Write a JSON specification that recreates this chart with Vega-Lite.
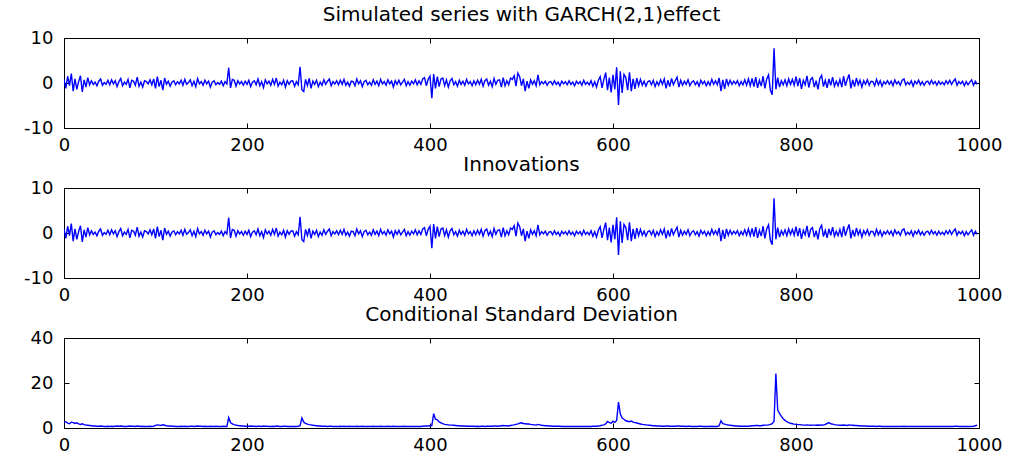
{
  "$schema": "https://vega.github.io/schema/vega-lite/v6.json",
  "autosize": {"type": "pad"},
  "padding": {"left": 23, "top": 4, "right": 5, "bottom": 2},
  "background": "white",
  "data": {"values": [
    {"t":0,"y":0.8,"e":0.8,"s":2.5},{"t":2,"y":-1.2,"e":-1.2,"s":2.8},{"t":4,"y":1.5,"e":1.5,"s":2.2},{"t":6,"y":-0.6,"e":-0.6,"s":1.9},{"t":8,"y":2.1,"e":2.1,"s":2.6},
    {"t":10,"y":-1.8,"e":-1.8,"s":2.4},{"t":12,"y":0.9,"e":0.9,"s":2.0},{"t":14,"y":-1.4,"e":-1.4,"s":2.3},{"t":16,"y":0.3,"e":0.3,"s":1.8},{"t":18,"y":1.6,"e":1.6,"s":1.6},
    {"t":20,"y":-2.0,"e":-2.0,"s":1.9},{"t":22,"y":0.7,"e":0.7,"s":1.5},{"t":24,"y":-0.9,"e":-0.9,"s":1.3},{"t":26,"y":1.2,"e":1.2,"s":1.2},{"t":28,"y":-0.4,"e":-0.4,"s":1.1},
    {"t":30,"y":0.5,"e":0.5,"s":1.0},{"t":32,"y":-0.3,"e":-0.3,"s":0.9},{"t":34,"y":0.2,"e":0.2,"s":0.9},{"t":36,"y":-0.6,"e":-0.6,"s":0.8},{"t":38,"y":0.4,"e":0.4,"s":0.8},
    {"t":40,"y":0.9,"e":0.9,"s":0.9},{"t":42,"y":-0.5,"e":-0.5,"s":0.8},{"t":44,"y":0.1,"e":0.1,"s":0.7},{"t":46,"y":-0.3,"e":-0.3,"s":0.7},{"t":48,"y":0.6,"e":0.6,"s":0.8},
    {"t":50,"y":-0.4,"e":-0.4,"s":0.7},{"t":52,"y":0.7,"e":0.7,"s":0.8},{"t":54,"y":-0.2,"e":-0.2,"s":0.7},{"t":56,"y":0.5,"e":0.5,"s":0.8},{"t":58,"y":-0.8,"e":-0.8,"s":0.9},
    {"t":60,"y":0.3,"e":0.3,"s":0.8},{"t":62,"y":1.0,"e":1.0,"s":0.9},{"t":64,"y":-0.6,"e":-0.6,"s":0.8},{"t":66,"y":0.2,"e":0.2,"s":0.7},{"t":68,"y":-0.3,"e":-0.3,"s":0.7},
    {"t":70,"y":0.8,"e":0.8,"s":0.8},{"t":72,"y":-1.1,"e":-1.1,"s":0.9},{"t":74,"y":0.6,"e":0.6,"s":0.8},{"t":76,"y":0.4,"e":0.4,"s":0.8},{"t":78,"y":-0.5,"e":-0.5,"s":0.7},
    {"t":80,"y":1.3,"e":1.3,"s":0.9},{"t":82,"y":-0.7,"e":-0.7,"s":0.8},{"t":84,"y":0.2,"e":0.2,"s":0.7},{"t":86,"y":-0.9,"e":-0.9,"s":0.8},{"t":88,"y":0.5,"e":0.5,"s":0.7},
    {"t":90,"y":0.3,"e":0.3,"s":0.7},{"t":92,"y":-0.2,"e":-0.2,"s":0.7},{"t":94,"y":0.7,"e":0.7,"s":0.8},{"t":96,"y":-0.4,"e":-0.4,"s":0.7},{"t":98,"y":0.9,"e":0.9,"s":0.8},
    {"t":100,"y":-1.2,"e":-1.2,"s":1.2},{"t":102,"y":1.4,"e":1.4,"s":1.4},{"t":104,"y":-0.8,"e":-0.8,"s":1.3},{"t":106,"y":0.6,"e":0.6,"s":1.1},{"t":108,"y":-1.6,"e":-1.6,"s":1.4},
    {"t":110,"y":1.1,"e":1.1,"s":1.2},{"t":112,"y":-0.3,"e":-0.3,"s":1.0},{"t":114,"y":0.4,"e":0.4,"s":0.9},{"t":116,"y":-0.7,"e":-0.7,"s":0.9},{"t":118,"y":0.2,"e":0.2,"s":0.8},
    {"t":120,"y":0.5,"e":0.5,"s":0.8},{"t":122,"y":-0.4,"e":-0.4,"s":0.7},{"t":124,"y":0.3,"e":0.3,"s":0.7},{"t":126,"y":-0.2,"e":-0.2,"s":0.7},{"t":128,"y":0.6,"e":0.6,"s":0.8},
    {"t":130,"y":-0.5,"e":-0.5,"s":0.7},{"t":132,"y":0.8,"e":0.8,"s":0.8},{"t":134,"y":-0.3,"e":-0.3,"s":0.7},{"t":136,"y":0.1,"e":0.1,"s":0.7},{"t":138,"y":0.7,"e":0.7,"s":0.8},
    {"t":140,"y":-0.6,"e":-0.6,"s":0.8},{"t":142,"y":0.4,"e":0.4,"s":0.7},{"t":144,"y":-0.8,"e":-0.8,"s":0.8},{"t":146,"y":1.0,"e":1.0,"s":0.9},{"t":148,"y":-0.2,"e":-0.2,"s":0.8},
    {"t":150,"y":0.3,"e":0.3,"s":0.8},{"t":152,"y":-0.5,"e":-0.5,"s":0.7},{"t":154,"y":0.6,"e":0.6,"s":0.8},{"t":156,"y":-0.2,"e":-0.2,"s":0.7},{"t":158,"y":0.4,"e":0.4,"s":0.7},
    {"t":160,"y":-0.9,"e":-0.9,"s":0.8},{"t":162,"y":0.2,"e":0.2,"s":0.7},{"t":164,"y":0.5,"e":0.5,"s":0.7},{"t":166,"y":-0.4,"e":-0.4,"s":0.8},{"t":168,"y":0.1,"e":0.1,"s":0.7},
    {"t":170,"y":-0.3,"e":-0.3,"s":0.7},{"t":172,"y":0.4,"e":0.4,"s":0.7},{"t":174,"y":-0.6,"e":-0.6,"s":0.8},{"t":176,"y":0.3,"e":0.3,"s":0.7},{"t":178,"y":-0.2,"e":-0.2,"s":0.7},
    {"t":180,"y":3.4,"e":3.4,"s":4.6},{"t":182,"y":-1.1,"e":-1.1,"s":2.4},{"t":184,"y":0.8,"e":0.8,"s":1.8},{"t":186,"y":0.6,"e":0.6,"s":1.5},{"t":188,"y":-0.7,"e":-0.7,"s":1.3},
    {"t":190,"y":0.5,"e":0.5,"s":1.1},{"t":192,"y":-0.2,"e":-0.2,"s":1.0},{"t":194,"y":0.3,"e":0.3,"s":0.9},{"t":196,"y":-0.5,"e":-0.5,"s":0.9},{"t":198,"y":0.4,"e":0.4,"s":0.8},
    {"t":200,"y":-0.3,"e":-0.3,"s":0.8},{"t":202,"y":0.6,"e":0.6,"s":0.8},{"t":204,"y":-0.8,"e":-0.8,"s":0.9},{"t":206,"y":0.2,"e":0.2,"s":0.8},{"t":208,"y":0.5,"e":0.5,"s":0.8},
    {"t":210,"y":-0.4,"e":-0.4,"s":0.7},{"t":212,"y":0.9,"e":0.9,"s":0.8},{"t":214,"y":-0.6,"e":-0.6,"s":0.8},{"t":216,"y":0.3,"e":0.3,"s":0.7},{"t":218,"y":-1.0,"e":-1.0,"s":0.9},
    {"t":220,"y":0.7,"e":0.7,"s":0.8},{"t":222,"y":-0.2,"e":-0.2,"s":0.8},{"t":224,"y":0.4,"e":0.4,"s":0.7},{"t":226,"y":-0.5,"e":-0.5,"s":0.7},{"t":228,"y":0.8,"e":0.8,"s":0.8},
    {"t":230,"y":-0.3,"e":-0.3,"s":0.7},{"t":232,"y":1.1,"e":1.1,"s":0.9},{"t":234,"y":-0.7,"e":-0.7,"s":0.8},{"t":236,"y":0.2,"e":0.2,"s":0.7},{"t":238,"y":-0.4,"e":-0.4,"s":0.7},
    {"t":240,"y":0.6,"e":0.6,"s":0.8},{"t":242,"y":-0.9,"e":-0.9,"s":0.8},{"t":244,"y":0.5,"e":0.5,"s":0.7},{"t":246,"y":-0.3,"e":-0.3,"s":0.7},{"t":248,"y":0.4,"e":0.4,"s":0.7},
    {"t":250,"y":0.5,"e":0.5,"s":0.7},{"t":252,"y":-0.7,"e":-0.7,"s":0.7},{"t":254,"y":0.3,"e":0.3,"s":0.7},{"t":256,"y":-0.4,"e":-0.4,"s":0.8},{"t":258,"y":3.6,"e":3.6,"s":1.0},
    {"t":260,"y":-1.5,"e":-1.5,"s":4.5},{"t":262,"y":-1.9,"e":-1.9,"s":2.6},{"t":264,"y":0.8,"e":0.8,"s":2.1},{"t":266,"y":-0.6,"e":-0.6,"s":1.7},{"t":268,"y":1.0,"e":1.0,"s":1.5},
    {"t":270,"y":-1.2,"e":-1.2,"s":1.4},{"t":272,"y":0.4,"e":0.4,"s":1.2},{"t":274,"y":-0.3,"e":-0.3,"s":1.1},{"t":276,"y":0.6,"e":0.6,"s":1.0},{"t":278,"y":-0.8,"e":-0.8,"s":0.9},
    {"t":280,"y":0.2,"e":0.2,"s":0.9},{"t":282,"y":-0.5,"e":-0.5,"s":0.8},{"t":284,"y":0.7,"e":0.7,"s":0.8},{"t":286,"y":-0.3,"e":-0.3,"s":0.8},{"t":288,"y":0.4,"e":0.4,"s":0.7},
    {"t":290,"y":0.9,"e":0.9,"s":0.8},{"t":292,"y":-0.6,"e":-0.6,"s":0.8},{"t":294,"y":0.3,"e":0.3,"s":0.7},{"t":296,"y":-0.2,"e":-0.2,"s":0.7},{"t":298,"y":0.5,"e":0.5,"s":0.7},
    {"t":300,"y":-0.4,"e":-0.4,"s":0.7},{"t":302,"y":0.6,"e":0.6,"s":0.8},{"t":304,"y":-0.3,"e":-0.3,"s":0.7},{"t":306,"y":0.8,"e":0.8,"s":0.8},{"t":308,"y":-0.5,"e":-0.5,"s":0.7},
    {"t":310,"y":0.2,"e":0.2,"s":0.7},{"t":312,"y":-0.7,"e":-0.7,"s":0.8},{"t":314,"y":0.4,"e":0.4,"s":0.7},{"t":316,"y":0.3,"e":0.3,"s":0.7},{"t":318,"y":-0.6,"e":-0.6,"s":0.7},
    {"t":320,"y":0.9,"e":0.9,"s":0.8},{"t":322,"y":-0.2,"e":-0.2,"s":0.7},{"t":324,"y":0.5,"e":0.5,"s":0.7},{"t":326,"y":-0.8,"e":-0.8,"s":0.8},{"t":328,"y":0.3,"e":0.3,"s":0.7},
    {"t":330,"y":0.6,"e":0.6,"s":0.7},{"t":332,"y":-0.4,"e":-0.4,"s":0.7},{"t":334,"y":0.2,"e":0.2,"s":0.7},{"t":336,"y":-0.5,"e":-0.5,"s":0.7},{"t":338,"y":0.7,"e":0.7,"s":0.8},
    {"t":340,"y":-0.3,"e":-0.3,"s":0.7},{"t":342,"y":0.4,"e":0.4,"s":0.7},{"t":344,"y":-0.6,"e":-0.6,"s":0.7},{"t":346,"y":0.8,"e":0.8,"s":0.8},{"t":348,"y":-0.2,"e":-0.2,"s":0.7},
    {"t":350,"y":0.3,"e":0.3,"s":0.7},{"t":352,"y":-0.5,"e":-0.5,"s":0.7},{"t":354,"y":0.7,"e":0.7,"s":0.8},{"t":356,"y":-0.2,"e":-0.2,"s":0.7},{"t":358,"y":0.4,"e":0.4,"s":0.7},
    {"t":360,"y":-0.9,"e":-0.9,"s":0.8},{"t":362,"y":0.5,"e":0.5,"s":0.7},{"t":364,"y":-0.3,"e":-0.3,"s":0.7},{"t":366,"y":0.6,"e":0.6,"s":0.7},{"t":368,"y":-0.4,"e":-0.4,"s":0.7},
    {"t":370,"y":0.2,"e":0.2,"s":0.7},{"t":372,"y":0.8,"e":0.8,"s":0.8},{"t":374,"y":-0.6,"e":-0.6,"s":0.7},{"t":376,"y":0.3,"e":0.3,"s":0.7},{"t":378,"y":-0.5,"e":-0.5,"s":0.7},
    {"t":380,"y":0.4,"e":0.4,"s":0.7},{"t":382,"y":-0.2,"e":-0.2,"s":0.7},{"t":384,"y":0.7,"e":0.7,"s":0.7},{"t":386,"y":-0.4,"e":-0.4,"s":0.7},{"t":388,"y":0.5,"e":0.5,"s":0.7},
    {"t":390,"y":-0.3,"e":-0.3,"s":0.7},{"t":392,"y":0.9,"e":0.9,"s":0.8},{"t":394,"y":1.2,"e":1.2,"s":0.9},{"t":396,"y":-0.6,"e":-0.6,"s":0.9},{"t":398,"y":0.8,"e":0.8,"s":0.9},
    {"t":400,"y":1.5,"e":1.5,"s":1.0},{"t":402,"y":-3.4,"e":-3.4,"s":1.1},{"t":404,"y":2.0,"e":2.0,"s":6.4},{"t":406,"y":-1.2,"e":-1.2,"s":3.9},{"t":408,"y":1.4,"e":1.4,"s":3.6},
    {"t":410,"y":-0.8,"e":-0.8,"s":2.7},{"t":412,"y":0.9,"e":0.9,"s":2.3},{"t":414,"y":1.1,"e":1.1,"s":1.9},{"t":416,"y":-0.6,"e":-0.6,"s":1.6},{"t":418,"y":0.7,"e":0.7,"s":1.5},
    {"t":420,"y":-0.9,"e":-0.9,"s":1.4},{"t":422,"y":0.5,"e":0.5,"s":1.3},{"t":424,"y":1.0,"e":1.0,"s":1.3},{"t":426,"y":-0.4,"e":-0.4,"s":1.2},{"t":428,"y":0.3,"e":0.3,"s":1.1},
    {"t":430,"y":-0.7,"e":-0.7,"s":1.0},{"t":432,"y":0.6,"e":0.6,"s":1.0},{"t":434,"y":-0.3,"e":-0.3,"s":0.9},{"t":436,"y":0.4,"e":0.4,"s":0.9},{"t":438,"y":-0.5,"e":-0.5,"s":0.9},
    {"t":440,"y":0.8,"e":0.8,"s":0.8},{"t":442,"y":-0.2,"e":-0.2,"s":0.8},{"t":444,"y":0.3,"e":0.3,"s":0.8},{"t":446,"y":-0.6,"e":-0.6,"s":0.8},{"t":448,"y":0.5,"e":0.5,"s":0.8},
    {"t":450,"y":-0.4,"e":-0.4,"s":0.7},{"t":452,"y":0.6,"e":0.6,"s":0.8},{"t":454,"y":-0.3,"e":-0.3,"s":0.7},{"t":456,"y":0.8,"e":0.8,"s":0.8},{"t":458,"y":-0.7,"e":-0.7,"s":0.8},
    {"t":460,"y":0.5,"e":0.5,"s":0.7},{"t":462,"y":0.9,"e":0.9,"s":0.8},{"t":464,"y":-0.5,"e":-0.5,"s":0.8},{"t":466,"y":0.4,"e":0.4,"s":0.8},{"t":468,"y":-0.8,"e":-0.8,"s":0.8},
    {"t":470,"y":1.0,"e":1.0,"s":0.9},{"t":472,"y":-0.3,"e":-0.3,"s":0.9},{"t":474,"y":0.6,"e":0.6,"s":0.8},{"t":476,"y":0.7,"e":0.7,"s":0.9},{"t":478,"y":-0.9,"e":-0.9,"s":1.0},
    {"t":480,"y":1.2,"e":1.2,"s":1.1},{"t":482,"y":-0.6,"e":-0.6,"s":1.0},{"t":484,"y":0.5,"e":0.5,"s":1.0},{"t":486,"y":-0.4,"e":-0.4,"s":0.9},{"t":488,"y":1.1,"e":1.1,"s":1.1},
    {"t":490,"y":0.8,"e":0.8,"s":1.3},{"t":492,"y":1.6,"e":1.6,"s":1.4},{"t":494,"y":-0.7,"e":-0.7,"s":1.6},{"t":496,"y":2.2,"e":2.2,"s":1.8},{"t":498,"y":1.4,"e":1.4,"s":2.1},
    {"t":500,"y":-0.6,"e":-0.6,"s":2.3},{"t":502,"y":0.9,"e":0.9,"s":2.0},{"t":504,"y":-1.8,"e":-1.8,"s":1.9},{"t":506,"y":0.4,"e":0.4,"s":1.8},{"t":508,"y":-1.2,"e":-1.2,"s":1.8},
    {"t":510,"y":0.7,"e":0.7,"s":1.6},{"t":512,"y":-0.3,"e":-0.3,"s":1.5},{"t":514,"y":0.5,"e":0.5,"s":1.4},{"t":516,"y":-0.6,"e":-0.6,"s":1.3},{"t":518,"y":1.8,"e":1.8,"s":1.6},
    {"t":520,"y":-0.4,"e":-0.4,"s":1.4},{"t":522,"y":0.3,"e":0.3,"s":1.2},{"t":524,"y":-0.2,"e":-0.2,"s":1.1},{"t":526,"y":0.4,"e":0.4,"s":1.0},{"t":528,"y":-0.5,"e":-0.5,"s":1.0},
    {"t":530,"y":0.2,"e":0.2,"s":0.9},{"t":532,"y":0.3,"e":0.3,"s":0.9},{"t":534,"y":-0.4,"e":-0.4,"s":0.8},{"t":536,"y":0.5,"e":0.5,"s":0.8},{"t":538,"y":-0.3,"e":-0.3,"s":0.8},
    {"t":540,"y":0.2,"e":0.2,"s":0.8},{"t":542,"y":-0.6,"e":-0.6,"s":0.8},{"t":544,"y":0.4,"e":0.4,"s":0.7},{"t":546,"y":-0.2,"e":-0.2,"s":0.7},{"t":548,"y":0.3,"e":0.3,"s":0.7},
    {"t":550,"y":-0.4,"e":-0.4,"s":0.7},{"t":552,"y":0.5,"e":0.5,"s":0.7},{"t":554,"y":-0.3,"e":-0.3,"s":0.7},{"t":556,"y":0.2,"e":0.2,"s":0.7},{"t":558,"y":-0.6,"e":-0.6,"s":0.7},
    {"t":560,"y":0.4,"e":0.4,"s":0.7},{"t":562,"y":-0.2,"e":-0.2,"s":0.7},{"t":564,"y":0.3,"e":0.3,"s":0.7},{"t":566,"y":-0.5,"e":-0.5,"s":0.7},{"t":568,"y":0.6,"e":0.6,"s":0.7},
    {"t":570,"y":-0.3,"e":-0.3,"s":0.7},{"t":572,"y":0.2,"e":0.2,"s":0.7},{"t":574,"y":-0.4,"e":-0.4,"s":0.7},{"t":576,"y":0.5,"e":0.5,"s":0.7},{"t":578,"y":-0.7,"e":-0.7,"s":0.8},
    {"t":580,"y":0.3,"e":0.3,"s":0.8},{"t":582,"y":-0.9,"e":-0.9,"s":0.8},{"t":584,"y":0.6,"e":0.6,"s":0.9},{"t":586,"y":1.4,"e":1.4,"s":1.0},{"t":588,"y":-1.1,"e":-1.1,"s":1.3},
    {"t":590,"y":0.8,"e":0.8,"s":1.4},{"t":592,"y":2.3,"e":2.3,"s":1.8},{"t":594,"y":-1.6,"e":-1.6,"s":2.9},{"t":596,"y":1.2,"e":1.2,"s":2.4},{"t":598,"y":-2.1,"e":-2.1,"s":2.1},
    {"t":600,"y":1.8,"e":1.8,"s":3.0},{"t":602,"y":-1.4,"e":-1.4,"s":2.5},{"t":604,"y":3.5,"e":3.5,"s":3.4},{"t":606,"y":-4.9,"e":-4.9,"s":11.5},{"t":608,"y":2.6,"e":2.6,"s":6.2},
    {"t":610,"y":-2.2,"e":-2.2,"s":4.4},{"t":612,"y":1.9,"e":1.9,"s":3.9},{"t":614,"y":1.2,"e":1.2,"s":3.2},{"t":616,"y":-1.6,"e":-1.6,"s":3.0},{"t":618,"y":2.4,"e":2.4,"s":2.8},
    {"t":620,"y":-1.8,"e":-1.8,"s":3.1},{"t":622,"y":0.9,"e":0.9,"s":2.6},{"t":624,"y":-1.3,"e":-1.3,"s":2.4},{"t":626,"y":1.1,"e":1.1,"s":2.2},{"t":628,"y":-0.6,"e":-0.6,"s":2.0},
    {"t":630,"y":0.8,"e":0.8,"s":1.8},{"t":632,"y":-0.5,"e":-0.5,"s":1.6},{"t":634,"y":0.4,"e":0.4,"s":1.5},{"t":636,"y":-0.7,"e":-0.7,"s":1.4},{"t":638,"y":0.3,"e":0.3,"s":1.3},
    {"t":640,"y":0.5,"e":0.5,"s":1.2},{"t":642,"y":-0.4,"e":-0.4,"s":1.1},{"t":644,"y":0.6,"e":0.6,"s":1.0},{"t":646,"y":-0.8,"e":-0.8,"s":1.0},{"t":648,"y":0.3,"e":0.3,"s":0.9},
    {"t":650,"y":-0.5,"e":-0.5,"s":0.9},{"t":652,"y":0.7,"e":0.7,"s":0.9},{"t":654,"y":-0.3,"e":-0.3,"s":0.8},{"t":656,"y":0.9,"e":0.9,"s":0.8},{"t":658,"y":-1.2,"e":-1.2,"s":0.9},
    {"t":660,"y":0.6,"e":0.6,"s":0.9},{"t":662,"y":-0.8,"e":-0.8,"s":0.8},{"t":664,"y":1.0,"e":1.0,"s":0.8},{"t":666,"y":-0.4,"e":-0.4,"s":0.8},{"t":668,"y":0.5,"e":0.5,"s":0.8},
    {"t":670,"y":1.3,"e":1.3,"s":0.9},{"t":672,"y":-0.9,"e":-0.9,"s":0.9},{"t":674,"y":0.6,"e":0.6,"s":0.8},{"t":676,"y":-0.5,"e":-0.5,"s":0.8},{"t":678,"y":0.4,"e":0.4,"s":0.8},
    {"t":680,"y":-0.3,"e":-0.3,"s":0.7},{"t":682,"y":0.7,"e":0.7,"s":0.8},{"t":684,"y":-0.6,"e":-0.6,"s":0.8},{"t":686,"y":0.2,"e":0.2,"s":0.7},{"t":688,"y":0.5,"e":0.5,"s":0.7},
    {"t":690,"y":-0.4,"e":-0.4,"s":0.7},{"t":692,"y":0.3,"e":0.3,"s":0.7},{"t":694,"y":-0.7,"e":-0.7,"s":0.8},{"t":696,"y":0.6,"e":0.6,"s":0.8},{"t":698,"y":-0.2,"e":-0.2,"s":0.7},
    {"t":700,"y":0.4,"e":0.4,"s":0.7},{"t":702,"y":-0.6,"e":-0.6,"s":0.7},{"t":704,"y":0.3,"e":0.3,"s":0.7},{"t":706,"y":-0.5,"e":-0.5,"s":0.7},{"t":708,"y":0.8,"e":0.8,"s":0.8},
    {"t":710,"y":-0.3,"e":-0.3,"s":0.7},{"t":712,"y":0.5,"e":0.5,"s":0.7},{"t":714,"y":-0.4,"e":-0.4,"s":0.7},{"t":716,"y":1.1,"e":1.1,"s":1.0},{"t":718,"y":-1.8,"e":-1.8,"s":3.2},
    {"t":720,"y":0.7,"e":0.7,"s":1.9},{"t":722,"y":-1.3,"e":-1.3,"s":1.7},{"t":724,"y":0.9,"e":0.9,"s":1.5},{"t":726,"y":-0.5,"e":-0.5,"s":1.3},{"t":728,"y":0.6,"e":0.6,"s":1.2},
    {"t":730,"y":-0.3,"e":-0.3,"s":1.1},{"t":732,"y":0.4,"e":0.4,"s":1.0},{"t":734,"y":-0.2,"e":-0.2,"s":0.9},{"t":736,"y":0.5,"e":0.5,"s":0.9},{"t":738,"y":-0.6,"e":-0.6,"s":0.8},
    {"t":740,"y":0.3,"e":0.3,"s":0.8},{"t":742,"y":-0.4,"e":-0.4,"s":0.8},{"t":744,"y":0.7,"e":0.7,"s":0.8},{"t":746,"y":-0.5,"e":-0.5,"s":0.8},{"t":748,"y":0.9,"e":0.9,"s":0.8},
    {"t":750,"y":-0.6,"e":-0.6,"s":0.9},{"t":752,"y":1.0,"e":1.0,"s":1.0},{"t":754,"y":-0.8,"e":-0.8,"s":1.0},{"t":756,"y":1.3,"e":1.3,"s":1.1},{"t":758,"y":-1.1,"e":-1.1,"s":1.1},
    {"t":760,"y":0.6,"e":0.6,"s":1.0},{"t":762,"y":-0.7,"e":-0.7,"s":1.0},{"t":764,"y":1.5,"e":1.5,"s":1.2},{"t":766,"y":-1.2,"e":-1.2,"s":1.3},{"t":768,"y":0.9,"e":0.9,"s":1.3},
    {"t":770,"y":1.8,"e":1.8,"s":1.4},{"t":772,"y":-1.6,"e":-1.6,"s":1.6},{"t":774,"y":-2.6,"e":-2.6,"s":1.9},{"t":776,"y":7.7,"e":7.7,"s":3.0},{"t":778,"y":-1.4,"e":-1.4,"s":24.2},
    {"t":780,"y":1.2,"e":1.2,"s":8.0},{"t":782,"y":-0.9,"e":-0.9,"s":6.5},{"t":784,"y":0.5,"e":0.5,"s":5.2},{"t":786,"y":-0.4,"e":-0.4,"s":4.1},{"t":788,"y":0.7,"e":0.7,"s":3.4},
    {"t":790,"y":-0.6,"e":-0.6,"s":2.8},{"t":792,"y":0.9,"e":0.9,"s":2.4},{"t":794,"y":-0.3,"e":-0.3,"s":2.1},{"t":796,"y":0.8,"e":0.8,"s":1.9},{"t":798,"y":-0.5,"e":-0.5,"s":1.7},
    {"t":800,"y":1.4,"e":1.4,"s":1.6},{"t":802,"y":-0.7,"e":-0.7,"s":1.5},{"t":804,"y":1.1,"e":1.1,"s":1.5},{"t":806,"y":-1.3,"e":-1.3,"s":1.4},{"t":808,"y":0.6,"e":0.6,"s":1.3},
    {"t":810,"y":-0.4,"e":-0.4,"s":1.3},{"t":812,"y":1.6,"e":1.6,"s":1.4},{"t":814,"y":-1.0,"e":-1.0,"s":1.3},{"t":816,"y":0.8,"e":0.8,"s":1.2},{"t":818,"y":1.2,"e":1.2,"s":1.3},
    {"t":820,"y":-0.9,"e":-0.9,"s":1.3},{"t":822,"y":0.5,"e":0.5,"s":1.2},{"t":824,"y":-1.4,"e":-1.4,"s":1.3},{"t":826,"y":1.0,"e":1.0,"s":1.2},{"t":828,"y":1.7,"e":1.7,"s":1.4},
    {"t":830,"y":-0.8,"e":-0.8,"s":1.3},{"t":832,"y":0.6,"e":0.6,"s":1.6},{"t":834,"y":-1.1,"e":-1.1,"s":2.0},{"t":836,"y":0.9,"e":0.9,"s":2.4},{"t":838,"y":-0.5,"e":-0.5,"s":1.9},
    {"t":840,"y":1.3,"e":1.3,"s":1.7},{"t":842,"y":-0.7,"e":-0.7,"s":1.5},{"t":844,"y":0.4,"e":0.4,"s":1.4},{"t":846,"y":-0.6,"e":-0.6,"s":1.3},{"t":848,"y":0.8,"e":0.8,"s":1.2},
    {"t":850,"y":-0.9,"e":-0.9,"s":1.2},{"t":852,"y":1.5,"e":1.5,"s":1.3},{"t":854,"y":-0.6,"e":-0.6,"s":1.2},{"t":856,"y":0.8,"e":0.8,"s":1.1},{"t":858,"y":1.9,"e":1.9,"s":1.4},
    {"t":860,"y":-1.2,"e":-1.2,"s":1.3},{"t":862,"y":0.7,"e":0.7,"s":1.2},{"t":864,"y":-0.8,"e":-0.8,"s":1.1},{"t":866,"y":1.1,"e":1.1,"s":1.1},{"t":868,"y":-0.4,"e":-0.4,"s":1.0},
    {"t":870,"y":0.6,"e":0.6,"s":1.0},{"t":872,"y":-0.9,"e":-0.9,"s":0.9},{"t":874,"y":0.5,"e":0.5,"s":0.9},{"t":876,"y":-0.3,"e":-0.3,"s":0.9},{"t":878,"y":0.7,"e":0.7,"s":0.8},
    {"t":880,"y":-0.5,"e":-0.5,"s":0.8},{"t":882,"y":0.4,"e":0.4,"s":0.8},{"t":884,"y":0.3,"e":0.3,"s":0.8},{"t":886,"y":-0.6,"e":-0.6,"s":0.8},{"t":888,"y":0.8,"e":0.8,"s":0.7},
    {"t":890,"y":-0.4,"e":-0.4,"s":0.8},{"t":892,"y":0.5,"e":0.5,"s":0.8},{"t":894,"y":-0.7,"e":-0.7,"s":0.7},{"t":896,"y":0.3,"e":0.3,"s":0.7},{"t":898,"y":-0.2,"e":-0.2,"s":0.7},
    {"t":900,"y":0.5,"e":0.5,"s":0.7},{"t":902,"y":-0.3,"e":-0.3,"s":0.7},{"t":904,"y":0.4,"e":0.4,"s":0.7},{"t":906,"y":-0.6,"e":-0.6,"s":0.7},{"t":908,"y":0.7,"e":0.7,"s":0.7},
    {"t":910,"y":-0.2,"e":-0.2,"s":0.7},{"t":912,"y":0.3,"e":0.3,"s":0.7},{"t":914,"y":-0.5,"e":-0.5,"s":0.7},{"t":916,"y":0.6,"e":0.6,"s":0.7},{"t":918,"y":0.9,"e":0.9,"s":0.8},
    {"t":920,"y":-0.4,"e":-0.4,"s":0.7},{"t":922,"y":0.2,"e":0.2,"s":0.7},{"t":924,"y":-0.3,"e":-0.3,"s":0.7},{"t":926,"y":0.5,"e":0.5,"s":0.7},{"t":928,"y":-0.7,"e":-0.7,"s":0.7},
    {"t":930,"y":0.4,"e":0.4,"s":0.7},{"t":932,"y":-0.2,"e":-0.2,"s":0.7},{"t":934,"y":0.6,"e":0.6,"s":0.7},{"t":936,"y":-0.4,"e":-0.4,"s":0.7},{"t":938,"y":0.3,"e":0.3,"s":0.7},
    {"t":940,"y":-0.5,"e":-0.5,"s":0.7},{"t":942,"y":0.2,"e":0.2,"s":0.7},{"t":944,"y":0.4,"e":0.4,"s":0.7},{"t":946,"y":-0.3,"e":-0.3,"s":0.7},{"t":948,"y":0.6,"e":0.6,"s":0.7},
    {"t":950,"y":-0.2,"e":-0.2,"s":0.7},{"t":952,"y":0.3,"e":0.3,"s":0.7},{"t":954,"y":-0.5,"e":-0.5,"s":0.7},{"t":956,"y":0.4,"e":0.4,"s":0.7},{"t":958,"y":-0.3,"e":-0.3,"s":0.7},
    {"t":960,"y":0.2,"e":0.2,"s":0.7},{"t":962,"y":-0.4,"e":-0.4,"s":0.7},{"t":964,"y":0.5,"e":0.5,"s":0.7},{"t":966,"y":-0.2,"e":-0.2,"s":0.7},{"t":968,"y":0.6,"e":0.6,"s":0.7},
    {"t":970,"y":-0.3,"e":-0.3,"s":0.7},{"t":972,"y":0.4,"e":0.4,"s":0.7},{"t":974,"y":0.9,"e":0.9,"s":0.8},{"t":976,"y":-0.5,"e":-0.5,"s":0.8},{"t":978,"y":0.3,"e":0.3,"s":0.7},
    {"t":980,"y":-0.2,"e":-0.2,"s":0.7},{"t":982,"y":0.4,"e":0.4,"s":0.7},{"t":984,"y":-0.6,"e":-0.6,"s":0.7},{"t":986,"y":0.3,"e":0.3,"s":0.7},{"t":988,"y":-0.4,"e":-0.4,"s":0.7},
    {"t":990,"y":0.2,"e":0.2,"s":0.7},{"t":992,"y":0.7,"e":0.7,"s":0.7},{"t":994,"y":-0.5,"e":-0.5,"s":0.8},{"t":996,"y":0.4,"e":0.4,"s":1.0},{"t":998,"y":-0.3,"e":-0.3,"s":1.2}
  ]},
  "config": {
    "view": {"stroke": "#000000", "strokeWidth": 1},
    "font": "DejaVu Sans",
    "axis": {
      "domain": false, "grid": false,
      "tickColor": "#000000", "tickSize": -5, "tickWidth": 1,
      "labelColor": "#000000", "labelFont": "DejaVu Sans", "labelFontSize": 18,
      "labelFlush": false, "labelOverlap": false, "labelExpr": "datum.value"
    },
    "axisBottom": {"labelPadding": 13},
    "axisLeft": {"labelPadding": 16},
    "title": {"font": "DejaVu Sans", "fontSize": 20, "fontWeight": "normal", "color": "#000000", "anchor": "middle", "frame": "group", "baseline": "alphabetic", "offset": 0},
    "line": {"color": "#0000ff", "strokeWidth": 1.4}
  },
  "spacing": 60,
  "bounds": "flush",
  "vconcat": [
    {
      "title": "Simulated series with GARCH(2,1)effect",
      "width": 915, "height": 90,
      "layer": [
        {
          "mark": {"type": "line", "clip": true},
          "encoding": {
            "x": {"field": "t", "type": "quantitative", "title": null, "scale": {"domain": [0, 1000], "nice": false}, "axis": {"values": [0, 200, 400, 600, 800, 1000]}},
            "y": {"field": "y", "type": "quantitative", "title": null, "scale": {"domain": [-10, 10], "nice": false}, "axis": {"values": [-10, 0, 10]}}
          }
        },
        {
          "mark": {"type": "line", "strokeOpacity": 0},
          "encoding": {
            "x": {"field": "t", "type": "quantitative", "title": null, "axis": {"orient": "top", "labels": false, "values": [0, 200, 400, 600, 800, 1000]}},
            "y": {"field": "y", "type": "quantitative", "title": null, "axis": {"orient": "right", "labels": false, "values": [-10, 0, 10]}}
          }
        }
      ],
      "resolve": {"axis": {"x": "independent", "y": "independent"}}
    },
    {
      "title": "Innovations",
      "width": 915, "height": 90,
      "layer": [
        {
          "mark": {"type": "line", "clip": true},
          "encoding": {
            "x": {"field": "t", "type": "quantitative", "title": null, "scale": {"domain": [0, 1000], "nice": false}, "axis": {"values": [0, 200, 400, 600, 800, 1000]}},
            "y": {"field": "e", "type": "quantitative", "title": null, "scale": {"domain": [-10, 10], "nice": false}, "axis": {"values": [-10, 0, 10]}}
          }
        },
        {
          "mark": {"type": "line", "strokeOpacity": 0},
          "encoding": {
            "x": {"field": "t", "type": "quantitative", "title": null, "axis": {"orient": "top", "labels": false, "values": [0, 200, 400, 600, 800, 1000]}},
            "y": {"field": "e", "type": "quantitative", "title": null, "axis": {"orient": "right", "labels": false, "values": [-10, 0, 10]}}
          }
        }
      ],
      "resolve": {"axis": {"x": "independent", "y": "independent"}}
    },
    {
      "title": "Conditional Standard Deviation",
      "width": 915, "height": 90,
      "layer": [
        {
          "mark": {"type": "line", "clip": true},
          "encoding": {
            "x": {"field": "t", "type": "quantitative", "title": null, "scale": {"domain": [0, 1000], "nice": false}, "axis": {"values": [0, 200, 400, 600, 800, 1000]}},
            "y": {"field": "s", "type": "quantitative", "title": null, "scale": {"domain": [0, 40], "nice": false}, "axis": {"values": [0, 20, 40]}}
          }
        },
        {
          "mark": {"type": "line", "strokeOpacity": 0},
          "encoding": {
            "x": {"field": "t", "type": "quantitative", "title": null, "axis": {"orient": "top", "labels": false, "values": [0, 200, 400, 600, 800, 1000]}},
            "y": {"field": "s", "type": "quantitative", "title": null, "axis": {"orient": "right", "labels": false, "values": [0, 20, 40]}}
          }
        }
      ],
      "resolve": {"axis": {"x": "independent", "y": "independent"}}
    }
  ]
}
